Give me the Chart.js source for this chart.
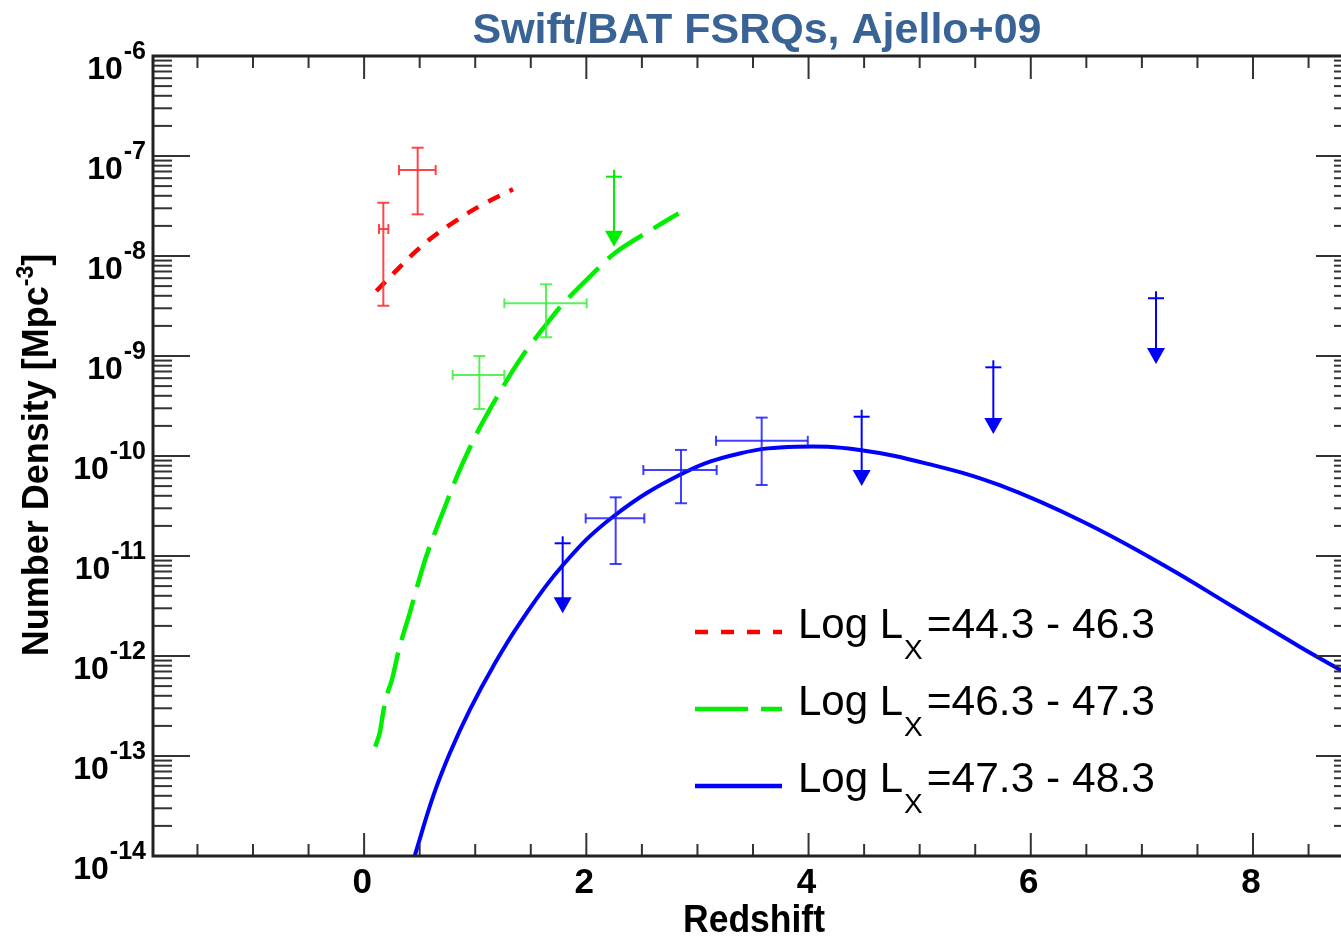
<!DOCTYPE html>
<html>
<head>
<meta charset="utf-8">
<title>Swift/BAT FSRQs, Ajello+09</title>
<script src="https://cdn.jsdelivr.net/npm/chart.js@4.4.1/dist/chart.umd.min.js"></script>
<style>
    html, body { margin: 0; padding: 0; background: #fff; overflow: hidden; }
    #wrap { width: 1360px; height: 936px; }
</style>
</head>
<body>
<div id="wrap"><canvas id="densityChart" width="1360" height="936"></canvas></div>
<script>
    // model curves
    var redCurveX = [0.11, 0.28, 0.46, 0.65, 0.84, 1.05, 1.34];
    var redCurveY = [4.47e-9, 6.97e-9, 1.10e-8, 1.65e-8, 2.30e-8, 3.20e-8, 4.65e-8];

    var greenCurveX = [0.10, 0.14, 0.17, 0.20, 0.25, 0.32, 0.41, 0.52, 0.59, 0.74, 0.86, 1.03, 1.25, 1.42, 1.60, 1.78, 2.00, 2.26, 2.57, 2.83];
    var greenCurveY = [1.24e-13, 1.69e-13, 2.67e-13, 3.92e-13, 5.75e-13, 1.24e-12, 2.67e-12, 7.24e-12, 1.24e-11, 3.37e-11, 7.24e-11, 1.82e-10, 4.93e-10, 9.84e-10, 1.82e-9, 3.24e-9, 5.75e-9, 1.08e-8, 1.79e-8, 2.67e-8];

    var blueCurveX = [0.455, 0.62, 0.77, 0.95, 1.16, 1.40, 1.78, 2.24, 2.87, 3.38, 3.89, 4.46, 5.12, 5.72, 6.47, 7.22, 7.82, 8.42, 8.9];
    var blueCurveY = [1.0e-14, 3.92e-14, 1.06e-13, 2.88e-13, 7.82e-13, 2.12e-12, 7.9e-12, 2.47e-11, 6.71e-11, 1.06e-10, 1.24e-10, 1.15e-10, 8.1e-11, 5.1e-11, 2.2e-11, 7.82e-12, 3.11e-12, 1.24e-12, 6.17e-13];

    // data points with error bars
    var redPtX = [0.173, 0.482];
    var redPtXLo = [0.134, 0.314];
    var redPtXHi = [0.218, 0.644];
    var redPtY = [1.86e-8, 7.24e-8];
    var redPtYLo = [3.18e-9, 2.61e-8];
    var redPtYHi = [3.41e-8, 1.21e-7];

    var greenPtX = [1.037, 1.637];
    var greenPtXLo = [0.797, 1.262];
    var greenPtXHi = [1.262, 2.003];
    var greenPtY = [6.46e-10, 3.37e-9];
    var greenPtYLo = [2.95e-10, 1.54e-9];
    var greenPtYHi = [1.0e-9, 5.21e-9];

    var bluePtX = [2.264, 2.852, 3.578];
    var bluePtXLo = [1.994, 2.513, 3.167];
    var bluePtXHi = [2.522, 3.173, 3.993];
    var bluePtY = [2.38e-11, 7.24e-11, 1.42e-10];
    var bluePtYLo = [8.32e-12, 3.37e-11, 5.13e-11];
    var bluePtYHi = [3.86e-11, 1.15e-10, 2.42e-10];

    // upper limits (bar top, arrow tip)
    var greenUlX = [2.249];
    var greenUlTop = [6.21e-8];
    var greenUlTip = [1.24e-8];

    var blueUlX = [1.787, 4.478, 5.663, 7.127];
    var blueUlTop = [1.34e-11, 2.47e-10, 7.71e-10, 3.78e-9];
    var blueUlTip = [2.67e-12, 5.01e-11, 1.66e-10, 8.32e-10];

    // axes
    var xMajorTicks = [0, 2, 4, 6, 8];
    var xTickLabels = ['0', '2', '4', '6', '8'];
    var yExponents = [-6, -7, -8, -9, -10, -11, -12, -13, -14];
    var yTickLabels = ['-6', '-7', '-8', '-9', '-10', '-11', '-12', '-13', '-14'];

    var legendLabels = ['=44.3 - 46.3', '=46.3 - 47.3', '=47.3 - 48.3'];

    var FONT = '"Liberation Sans", Arial, Helvetica, sans-serif';
    var RED = '#ff0000', GREEN = '#00ee00', BLUE = '#0000ff';

    function toPoints(xs, ys) {
        return xs.map(function(x, i) { return { x: x, y: ys[i] }; });
    }

    function line(ctx, x1, y1, x2, y2) {
        ctx.beginPath();
        ctx.moveTo(x1, y1);
        ctx.lineTo(x2, y2);
        ctx.stroke();
    }

    function drawCrosses(ctx, xs, ys, color, px, pxLo, pxHi, py, pyLo, pyHi) {
        ctx.save();
        ctx.strokeStyle = color;
        ctx.lineWidth = 2;
        px.forEach(function(v, i) {
            var cx = xs.getPixelForValue(v), cy = ys.getPixelForValue(py[i]);
            var x0 = xs.getPixelForValue(pxLo[i]), x1 = xs.getPixelForValue(pxHi[i]);
            var y0 = ys.getPixelForValue(pyLo[i]), y1 = ys.getPixelForValue(pyHi[i]);
            line(ctx, x0, cy, x1, cy);
            line(ctx, cx, y0, cx, y1);
            line(ctx, x0, cy - 5, x0, cy + 5);
            line(ctx, x1, cy - 5, x1, cy + 5);
            line(ctx, cx - 6, y0, cx + 6, y0);
            line(ctx, cx - 6, y1, cx + 6, y1);
        });
        ctx.restore();
    }

    function drawLimits(ctx, xs, ys, color, ux, uTop, uTip) {
        ctx.save();
        ctx.strokeStyle = color;
        ctx.fillStyle = color;
        ctx.lineWidth = 2;
        ux.forEach(function(v, i) {
            var cx = xs.getPixelForValue(v);
            var yt = ys.getPixelForValue(uTop[i]), yb = ys.getPixelForValue(uTip[i]);
            line(ctx, cx, yt - 7, cx, yb - 8);
            line(ctx, cx - 8, yt, cx + 8, yt);
            ctx.beginPath();
            ctx.moveTo(cx - 9, yb - 16);
            ctx.lineTo(cx + 9, yb - 16);
            ctx.lineTo(cx, yb);
            ctx.closePath();
            ctx.fill();
        });
        ctx.restore();
    }

    var decorPlugin = {
        id: 'decor',
        afterDatasetsDraw: function(chart) {
            var ctx = chart.ctx;
            var area = chart.chartArea;
            var xs = chart.scales.x, ys = chart.scales.y;

            drawCrosses(ctx, xs, ys, 'rgba(255,50,50,0.9)', redPtX, redPtXLo, redPtXHi, redPtY, redPtYLo, redPtYHi);
            drawCrosses(ctx, xs, ys, 'rgba(60,240,60,0.85)', greenPtX, greenPtXLo, greenPtXHi, greenPtY, greenPtYLo, greenPtYHi);
            drawCrosses(ctx, xs, ys, 'rgba(30,30,255,0.85)', bluePtX, bluePtXLo, bluePtXHi, bluePtY, bluePtYLo, bluePtYHi);
            drawLimits(ctx, xs, ys, GREEN, greenUlX, greenUlTop, greenUlTip);
            drawLimits(ctx, xs, ys, BLUE, blueUlX, blueUlTop, blueUlTip);

            ctx.save();
            // ticks
            ctx.strokeStyle = '#333';
            ctx.lineWidth = 2;
            var v, p;
            for (v = -1.5; v <= 8.9; v += 0.5) {
                p = xs.getPixelForValue(v);
                var len = xMajorTicks.indexOf(v) >= 0 ? 23 : 12;
                line(ctx, p, area.bottom, p, area.bottom - len);
                line(ctx, p, area.top, p, area.top + len);
            }
            yExponents.forEach(function(e) {
                var base = Math.pow(10, e);
                var py = ys.getPixelForValue(base);
                line(ctx, area.left, py, area.left + 37, py);
                line(ctx, area.right, py, area.right - 37, py);
                if (e === -6) return;
                for (var m = 2; m <= 9; m++) {
                    var q = ys.getPixelForValue(m * base);
                    line(ctx, area.left, q, area.left + 19, q);
                    line(ctx, area.right, q, area.right - 19, q);
                }
            });

            // frame
            ctx.strokeStyle = '#222';
            ctx.lineWidth = 3;
            ctx.strokeRect(area.left, area.top, area.right - area.left, area.bottom - area.top);

            // x tick labels
            ctx.fillStyle = '#000';
            ctx.font = 'bold 35px ' + FONT;
            ctx.textAlign = 'center';
            ctx.textBaseline = 'alphabetic';
            xMajorTicks.forEach(function(t, i) {
                ctx.fillText(xTickLabels[i], xs.getPixelForValue(t) - 2, 893);
            });

            // y tick labels 10^n
            ctx.textAlign = 'left';
            yExponents.forEach(function(e, i) {
                var py = ys.getPixelForValue(Math.pow(10, e));
                var exp = yTickLabels[i];
                ctx.font = 'bold 25px ' + FONT;
                var we = ctx.measureText(exp).width;
                ctx.font = 'bold 32px ' + FONT;
                var wb = ctx.measureText('10').width;
                var x0 = 146 - we - wb - 1;
                ctx.fillText('10', x0, py + 23);
                ctx.font = 'bold 25px ' + FONT;
                ctx.fillText(exp, x0 + wb + 1, py + 3);
            });

            // x title
            ctx.font = 'bold 38px ' + FONT;
            ctx.textAlign = 'center';
            var rw = ctx.measureText('Redshift').width;
            ctx.save();
            ctx.translate(754, 932);
            ctx.scale(142 / rw, 1);
            ctx.fillText('Redshift', 0, 0);
            ctx.restore();

            // y title
            ctx.save();
            ctx.translate(48, 455);
            ctx.rotate(-Math.PI / 2);
            ctx.textAlign = 'left';
            ctx.font = 'bold 36px ' + FONT;
            var w1 = ctx.measureText('Number Density [Mpc').width;
            var w3 = ctx.measureText(']').width;
            ctx.font = 'bold 23px ' + FONT;
            var w2 = ctx.measureText('-3').width;
            var sx = -(w1 + w2 + w3) / 2;
            ctx.font = 'bold 36px ' + FONT;
            ctx.fillText('Number Density [Mpc', sx, 0);
            ctx.fillText(']', sx + w1 + w2, 0);
            ctx.font = 'bold 23px ' + FONT;
            ctx.fillText('-3', sx + w1, -15);
            ctx.restore();

            // title
            ctx.font = 'bold 43px ' + FONT;
            ctx.fillStyle = '#3a6395';
            ctx.textAlign = 'center';
            ctx.fillText('Swift/BAT FSRQs, Ajello+09', 757, 43);

            // legend
            var legendColors = [RED, GREEN, BLUE];
            var legendDash = [[13, 13], [53, 13], []];
            var rowsY = [632, 709, 786];
            ctx.textAlign = 'left';
            rowsY.forEach(function(ry, i) {
                ctx.save();
                ctx.strokeStyle = legendColors[i];
                ctx.lineWidth = 4.5;
                ctx.setLineDash(legendDash[i]);
                line(ctx, 695, ry, 782, ry);
                ctx.restore();
                ctx.fillStyle = '#000';
                ctx.font = '42px ' + FONT;
                ctx.fillText('Log L', 798, ry + 6);
                var wl = ctx.measureText('Log L').width;
                ctx.font = '28px ' + FONT;
                ctx.fillText('X', 798 + wl + 1, ry + 27);
                var wx = ctx.measureText('X').width;
                ctx.font = '42.5px ' + FONT;
                ctx.fillText(legendLabels[i], 798 + wl + wx + 5, ry + 6);
            });
            ctx.restore();
        }
    };

    var CHART = document.getElementById('densityChart');
    var densityChart = new Chart(CHART, {
        type: 'scatter',
        data: {
            datasets: [{
                label: 'Log Lx=44.3 - 46.3',
                data: toPoints(redCurveX, redCurveY),
                showLine: true,
                borderColor: RED,
                borderWidth: 4.5,
                borderDash: [13, 11],
                pointRadius: 0,
                tension: 0.4
            }, {
                label: 'Log Lx=46.3 - 47.3',
                data: toPoints(greenCurveX, greenCurveY),
                showLine: true,
                borderColor: GREEN,
                borderWidth: 4.5,
                borderDash: [42, 13],
                pointRadius: 0,
                tension: 0.3
            }, {
                label: 'Log Lx=47.3 - 48.3',
                data: toPoints(blueCurveX, blueCurveY),
                showLine: true,
                borderColor: BLUE,
                borderWidth: 4,
                pointRadius: 0,
                tension: 0.4
            }]
        },
        options: {
            responsive: false,
            animation: false,
            layout: { padding: { top: 56, right: 7, left: 0, bottom: 0 } },
            plugins: {
                legend: { display: false },
                tooltip: { enabled: false },
                title: { display: false }
            },
            scales: {
                x: {
                    type: 'linear',
                    min: -1.9,
                    max: 8.9,
                    ticks: { display: false },
                    grid: { display: false },
                    border: { display: false },
                    afterFit: function(scale) { scale.height = 80; }
                },
                y: {
                    type: 'logarithmic',
                    min: 1e-14,
                    max: 1e-6,
                    ticks: { display: false },
                    grid: { display: false },
                    border: { display: false },
                    afterFit: function(scale) { scale.width = 153; }
                }
            }
        },
        plugins: [decorPlugin]
    });
</script>
</body>
</html>
